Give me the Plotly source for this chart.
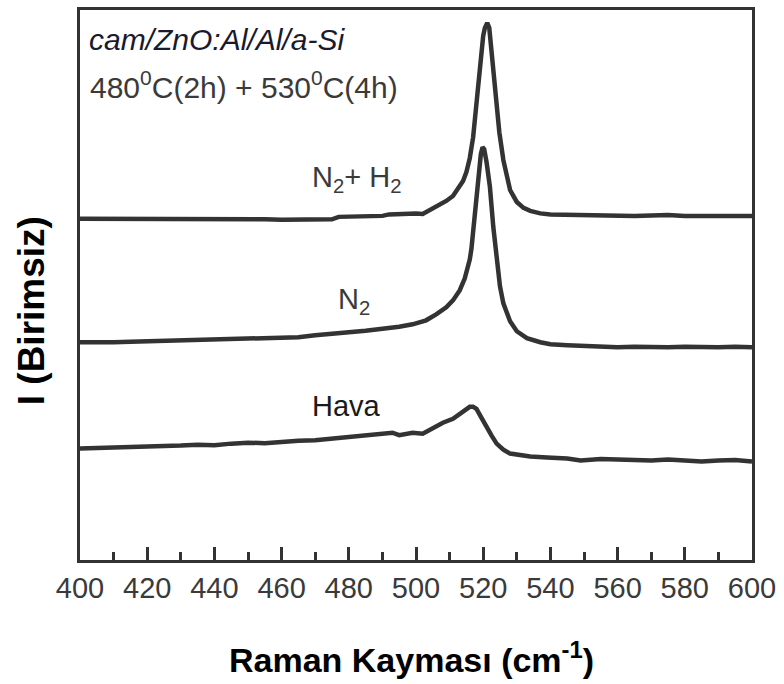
import plotly.graph_objects as go

# Raman spectra of glass/ZnO:Al/Al/a-Si after two-step annealing in different ambients
# Intensities are in arbitrary units.

# N2 + H2 ambient
wn_n2h2 = [400, 405, 410, 415, 420, 425, 430, 435, 440, 445, 450, 455, 460, 465, 470, 475,
           477, 480, 485, 490, 492, 495, 500, 502, 506, 509, 511, 513, 514, 515, 516, 517,
           518, 519, 519.5, 520, 520.5, 521.2, 521.8, 522.3, 523, 524, 524.8, 526, 527, 528,
           530, 532, 534, 537, 540, 545, 550, 555, 560, 565, 570, 575, 580, 585, 590, 595, 600]
int_n2h2 = [343, 343, 342.5, 343, 343.5, 343, 343, 342.5, 343, 343, 342.5, 342.5, 342, 342, 342.5, 342.5,
            345, 345, 345.5, 346, 347.5, 348, 348.5, 348, 355, 361, 366, 375, 381, 390, 404, 425,
            457, 498, 515, 527, 535, 540, 535, 517, 492, 455, 430, 402, 384, 372,
            360, 354, 351, 348.5, 347.5, 347, 346.5, 347, 346.5, 346, 346.5, 347, 346, 346.5, 346, 346, 346]

# N2 ambient
wn_n2 = [400, 405, 410, 415, 420, 425, 430, 435, 440, 445, 450, 455, 460, 465, 470, 475, 480,
         485, 490, 492, 495, 499, 503, 506, 509, 511, 513, 514.5, 516, 516.5, 517.4, 518, 518.7,
         519.3, 519.8, 520.3, 521, 522, 523, 524, 525, 526, 528, 530, 533, 537, 540, 545, 550,
         555, 560, 565, 570, 575, 580, 585, 590, 595, 600]
int_n2 = [219, 218.5, 219, 219.5, 220, 220, 220.5, 221, 221, 221.5, 222, 222.5, 223, 224, 226, 228, 229,
          230.5, 232, 233, 234.5, 237, 241, 247, 254, 261, 271, 283, 302, 313, 343, 365, 390,
          408, 415, 413, 400, 375, 335, 300, 275, 258, 240, 230, 223, 219, 217, 216, 215,
          214.5, 214, 214.5, 214, 214, 214.5, 214, 214, 214.5, 214]

# air ambient
wn_air = [400, 405, 410, 415, 420, 425, 430, 435, 440, 445, 450, 455, 460, 465, 470, 475, 480,
          485, 489, 493, 495, 497, 499, 502, 505, 508, 511, 514, 516, 517, 518, 519.5, 521,
          522.5, 524, 526, 528, 531, 534, 539, 545, 549, 555, 560, 565, 570, 575, 580, 585,
          590, 595, 600]
int_air = [112, 112.5, 112, 113.5, 114, 113.5, 115, 116, 115.5, 117, 118, 117.5, 119, 120, 120.5, 122, 123.5,
           125, 127, 128, 125.5, 126.5, 128, 127, 133, 138, 142, 149, 154, 154, 152, 143, 133,
           125, 117, 111, 107, 105, 104, 103, 102, 100, 101.5, 101, 100.5, 100, 101, 100, 99,
           100, 100.5, 99]

series = [(wn_n2h2, int_n2h2), (wn_n2, int_n2), (wn_air, int_air)]

x_ticks = list(range(400, 601, 20))

line_color = "#333333"

fig = go.Figure()
for wn, inten in series:
    fig.add_trace(go.Scatter(x=wn, y=inten, mode="lines",
                             line=dict(color=line_color, width=4.5),
                             showlegend=False, hoverinfo="skip"))

fig.update_layout(
    width=784, height=684,
    margin=dict(l=80, r=32, t=7, b=124),
    paper_bgcolor="white", plot_bgcolor="white",
    font=dict(family="Liberation Sans, Arial, sans-serif", color="#3a3a3a"),
)

fig.update_xaxes(
    range=[400, 600], tickvals=x_ticks, ticks="inside", ticklen=13, tickwidth=3,
    tickcolor=line_color, showline=True, linewidth=3, linecolor=line_color, mirror=True,
    showgrid=False, zeroline=False,
    tickfont=dict(size=29, color="#3a3a3a"),
    minor=dict(dtick=10, tick0=400, ticks="inside", ticklen=8, tickwidth=3, tickcolor=line_color,
               showgrid=False),
)
fig.update_yaxes(
    range=[0, 553], showticklabels=False, ticks="", showline=True, linewidth=3,
    linecolor=line_color, mirror=True, showgrid=False, zeroline=False,
)

annotations = [
    dict(text="Raman Kayması (cm<sup>-1</sup>)", x=0.494, y=-0.178, xref="paper", yref="paper",
         showarrow=False, xanchor="center", yanchor="middle",
         font=dict(size=34, color="#000000", family="Liberation Sans, Arial, sans-serif", weight="bold")),
    dict(text="I (Birimsiz)", x=-0.073, y=0.454, xref="paper", yref="paper", textangle=-90,
         showarrow=False, xanchor="center", yanchor="middle",
         font=dict(size=37, color="#000000", family="Liberation Sans, Arial, sans-serif", weight="bold")),
    dict(text="<i>cam/ZnO:Al/Al/a-Si</i>", x=402, y=523, xref="x", yref="y",
         showarrow=False, xanchor="left", yanchor="middle",
         font=dict(size=30, color="#1a1a2e")),
    dict(text="480<sup>0</sup>C(2h) + 530<sup>0</sup>C(4h)", x=402.5, y=478, xref="x", yref="y",
         showarrow=False, xanchor="left", yanchor="middle",
         font=dict(size=30, color="#3a3a3a")),
    dict(text="N<sub>2</sub>+ H<sub>2</sub>", x=482.2, y=383, xref="x", yref="y",
         showarrow=False, xanchor="center", yanchor="middle",
         font=dict(size=29, color="#3a3a3a")),
    dict(text="N<sub>2</sub>", x=481.5, y=260, xref="x", yref="y",
         showarrow=False, xanchor="center", yanchor="middle",
         font=dict(size=29, color="#3a3a3a")),
    dict(text="Hava", x=479.2, y=155, xref="x", yref="y",
         showarrow=False, xanchor="center", yanchor="middle",
         font=dict(size=29, color="#1a1a1a")),
]
fig.update_layout(annotations=annotations)

fig.write_html("out.html")
